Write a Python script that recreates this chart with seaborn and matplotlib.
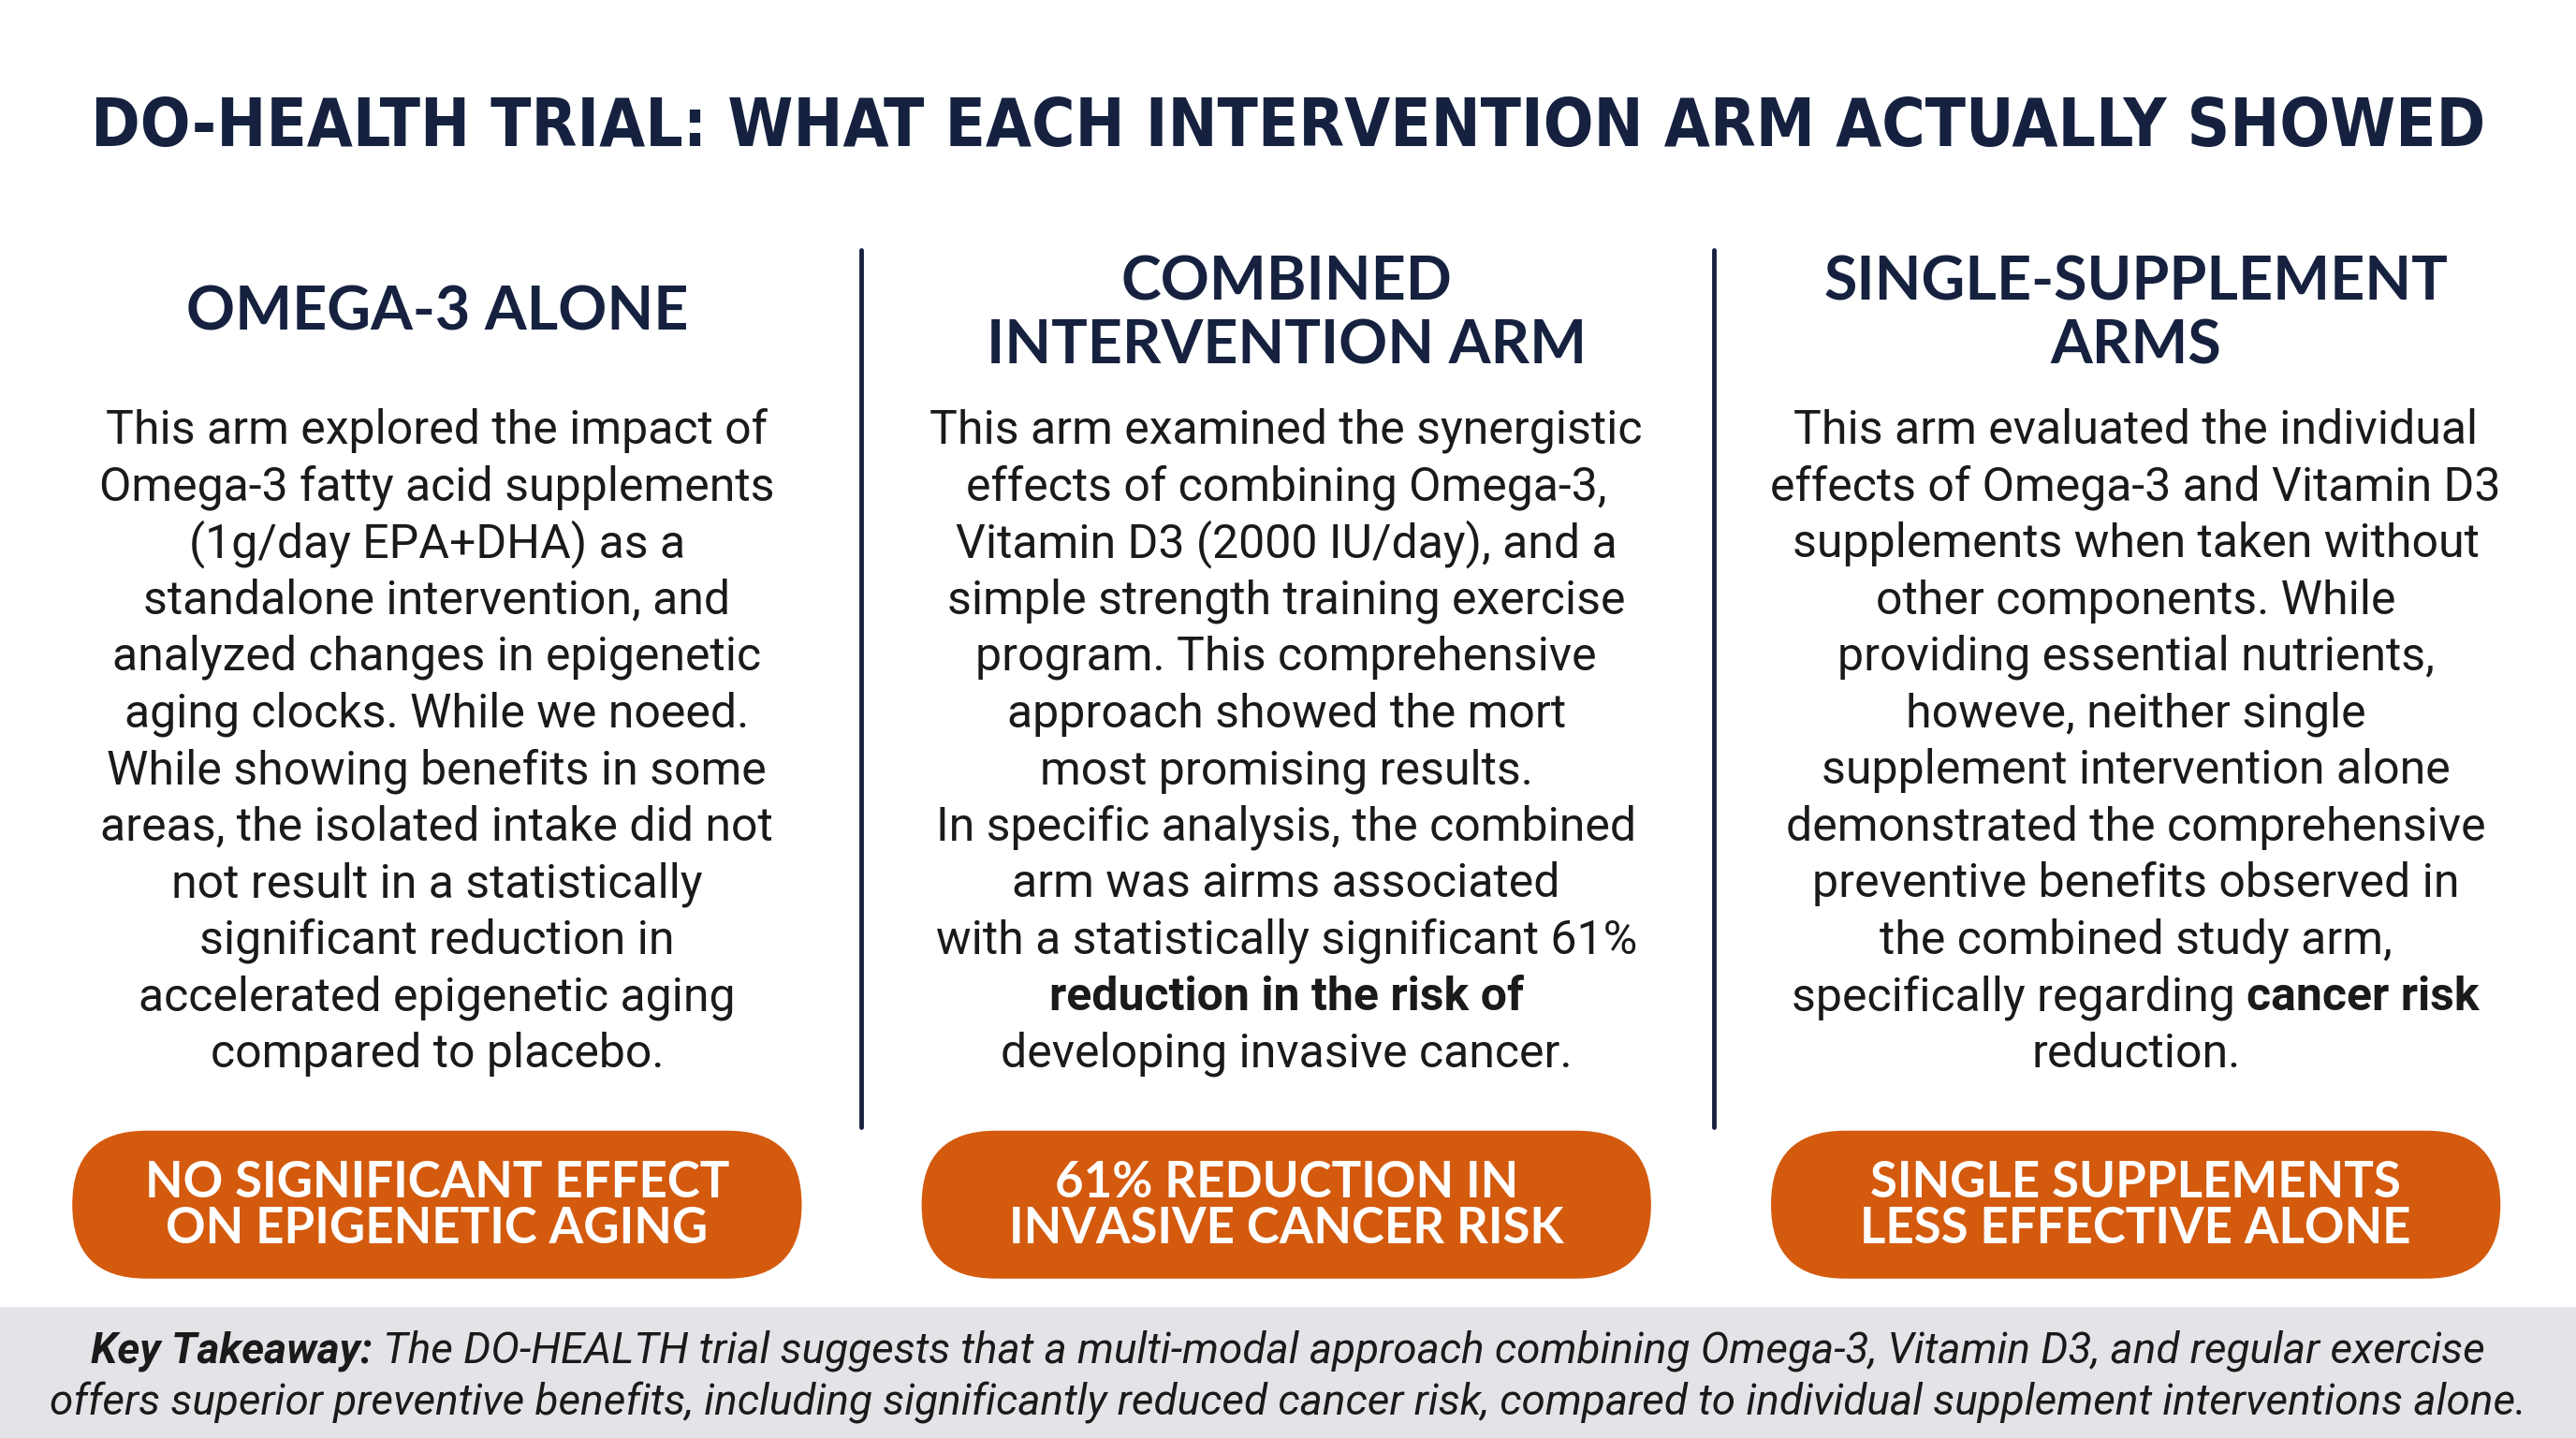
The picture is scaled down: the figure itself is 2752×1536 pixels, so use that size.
import matplotlib
matplotlib.use("Agg")
import matplotlib.pyplot as plt
import seaborn as sns
from matplotlib.patches import FancyBboxPatch, Rectangle

sns.set_theme(style="white")
plt.rcParams['font.family'] = ['Roboto', 'DejaVu Sans']

NAVY = "#15213f"
ORANGE = "#d45a0e"
W, H = 1568, 875  # reference coordinate space

title = "DO-HEALTH TRIAL: WHAT EACH INTERVENTION ARM ACTUALLY SHOWED"
col_x = [266, 783, 1300]
divider_x = [524, 1043]
headings = [
    ["OMEGA-3 ALONE"],
    ["COMBINED", "INTERVENTION ARM"],
    ["SINGLE-SUPPLEMENT", "ARMS"],
]
# each line is a list of (text, bold) segments
bodies = [
    [[("This arm explored the impact of", 0)],
     [("Omega-3 fatty acid supplements", 0)],
     [("(1g/day EPA+DHA) as a", 0)],
     [("standalone intervention, and", 0)],
     [("analyzed changes in epigenetic", 0)],
     [("aging clocks. While we noeed.", 0)],
     [("While showing benefits in some", 0)],
     [("areas, the isolated intake did not", 0)],
     [("not result in a statistically", 0)],
     [("significant reduction in", 0)],
     [("accelerated epigenetic aging", 0)],
     [("compared to placebo.", 0)]],
    [[("This arm examined the synergistic", 0)],
     [("effects of combining Omega-3,", 0)],
     [("Vitamin D3 (2000 IU/day), and a", 0)],
     [("simple strength training exercise", 0)],
     [("program. This comprehensive", 0)],
     [("approach showed the mort", 0)],
     [("most promising results.", 0)],
     [("In specific analysis, the combined", 0)],
     [("arm was airms associated", 0)],
     [("with a statistically significant 61%", 0)],
     [("reduction in the risk of", 1)],
     [("developing invasive cancer.", 0)]],
    [[("This arm evaluated the individual", 0)],
     [("effects of Omega-3 and Vitamin D3", 0)],
     [("supplements when taken without", 0)],
     [("other components. While", 0)],
     [("providing essential nutrients,", 0)],
     [("howeve, neither single", 0)],
     [("supplement intervention alone", 0)],
     [("demonstrated the comprehensive", 0)],
     [("preventive benefits observed in", 0)],
     [("the combined study arm,", 0)],
     [("specifically regarding ", 0), ("cancer risk", 1)],
     [("reduction.", 0)]],
]
pills = [
    "NO SIGNIFICANT EFFECT\nON EPIGENETIC AGING",
    "61% REDUCTION IN\nINVASIVE CANCER RISK",
    "SINGLE SUPPLEMENTS\nLESS EFFECTIVE ALONE",
]
takeaway = [
    [("Key Takeaway:", 1), (" The DO-HEALTH trial suggests that a multi-modal approach combining Omega-3, Vitamin D3, and regular exercise", 0)],
    [("offers superior preventive benefits, including significantly reduced cancer risk, compared to individual supplement interventions alone.", 0)],
]

fig = plt.figure(figsize=(27.52, 15.36), dpi=100)
ax = fig.add_axes([0, 0, 1, 1])
ax.set_xlim(0, W)
ax.set_ylim(H, 0)
ax.axis("off")
renderer = fig.canvas.get_renderer()
inv = ax.transData.inverted()


def width_of(t):
    bb = t.get_window_extent(renderer)
    return inv.transform((bb.x1, bb.y0))[0] - inv.transform((bb.x0, bb.y0))[0]


def fit(t, target, max_size=None):
    s = t.get_fontsize() * target / width_of(t)
    if max_size:
        s = min(s, max_size)
    t.set_fontsize(s)


def seg_line(x, y, segs, size, color, style="normal"):
    texts = [ax.text(0, y, s, fontsize=size, color=color, style=style,
                     fontweight="bold" if b else "normal", va="center", ha="left")
             for s, b in segs]
    widths = [width_of(t) for t in texts]
    cur = x - sum(widths) / 2
    for t, w in zip(texts, widths):
        t.set_x(cur)
        cur += w


t = ax.text(W / 2, 78, title, fontsize=64, fontweight="bold", color=NAVY,
            ha="center", va="center",
            family=["Liberation Sans Narrow", "DejaVu Sans"], fontstretch="condensed")
fit(t, 1457)

for dx in divider_x:
    ax.plot([dx, dx], [152, 686], color=NAVY, lw=3.5)

head_ref = {"OMEGA-3 ALONE": 305}
for cx, head, body, pill in zip(col_x, headings, bodies, pills):
    hy = [190] if len(head) == 1 else [172, 211]
    for line, y in zip(head, hy):
        ht = ax.text(cx, y, line, fontsize=37, fontweight="bold", color=NAVY,
                     ha="center", va="center", family=["Lato", "DejaVu Sans"])
        ht.set_fontsize(37 * 305 / width_of(ax.text(0, 0, "OMEGA-3 ALONE", fontsize=37,
                        fontweight="bold", family=["Lato", "DejaVu Sans"], alpha=0)))
    for i, segs in enumerate(body):
        seg_line(cx, 262 + i * 34.5, segs, 36, "#1a1a1a")
    ax.add_patch(FancyBboxPatch((cx - 222 + 45, 688), 444 - 90, 90,
                                boxstyle="round,pad=0,rounding_size=45",
                                mutation_aspect=1, fc=ORANGE, ec="none"))
    ax.patches[-1].set_boxstyle("round", pad=0, rounding_size=45)
    ax.patches[-1].set_x(cx - 222)
    ax.patches[-1].set_width(444)
    ax.text(cx, 734, pill, fontsize=38, fontweight="bold", color="white",
            ha="center", va="center", linespacing=1.0,
            family=["Lato", "DejaVu Sans"])

ax.add_patch(Rectangle((0, 795), W, 80, fc="#e3e4e7", ec="none"))
for i, segs in enumerate(takeaway):
    seg_line(W / 2, 822 + i * 31, segs, 33, "#1a1a1a", style="italic")

fig.savefig("out.png", dpi=100)
